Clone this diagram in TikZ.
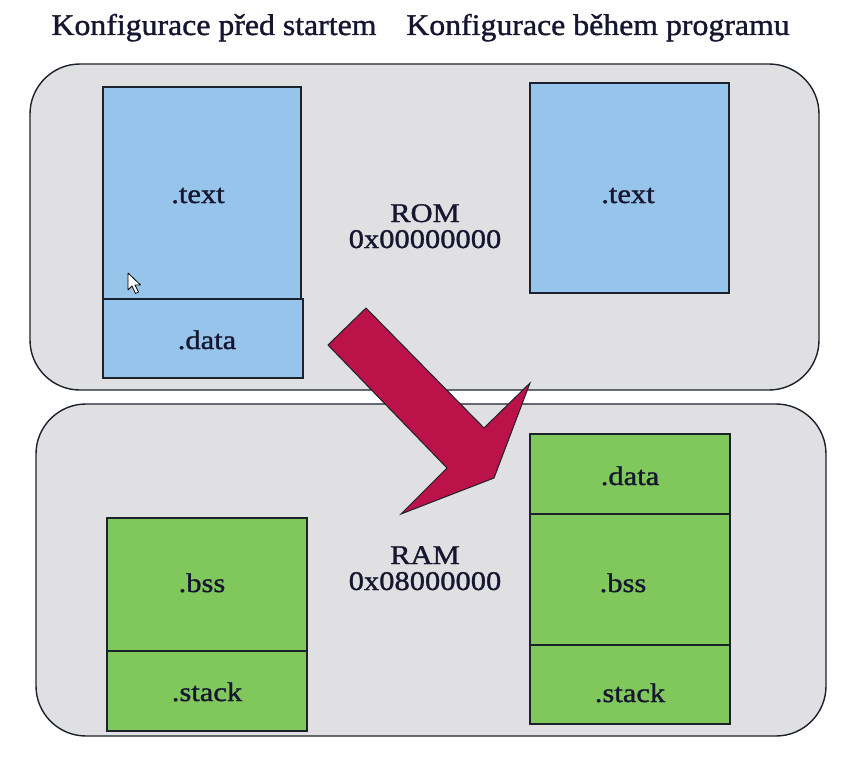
\documentclass[tikz,border=0pt]{standalone}
\usepackage{fontspec}
\setmainfont{Liberation Serif}
\newfontfamily\titlefont[FakeStretch=1.06,FakeBold=1.2]{Liberation Serif}
\newfontfamily\lblfont[FakeStretch=1.13,FakeBold=1.2]{Liberation Serif}
\definecolor{panelgray}{RGB}{224,224,226}
\definecolor{romblue}{RGB}{150,196,234}
\definecolor{ramgreen}{RGB}{128,200,92}
\definecolor{edgedark}{RGB}{28,34,44}
\definecolor{inkblue}{RGB}{22,22,48}
\definecolor{arrowred}{RGB}{188,18,74}
\tikzset{
  panel/.style={draw=edgedark, fill=panelgray, line width=1.4pt, rounded corners=50pt},
  seg/.style={draw=edgedark, line width=1.3pt, anchor=north west, inner sep=0pt, outer sep=0pt},
  romseg/.style={seg, fill=romblue},
  ramseg/.style={seg, fill=ramgreen},
  lbl/.style={font=\lblfont\fontsize{27}{26}\selectfont, text=inkblue, anchor=base, inner sep=0pt, align=center},
  ttl/.style={font=\titlefont\fontsize{30}{34}\selectfont, text=inkblue, anchor=base, inner sep=0pt},
  bigarrow/.style={draw=edgedark, fill=arrowred, line width=1pt, line join=miter},
  cursor/.style={draw=black, fill=white, line width=0.8pt, line join=round}
}
\begin{document}
\begin{tikzpicture}[x=1pt,y=-1pt]
\useasboundingbox (0,0) rectangle (843,757);
\fill[white] (0,0) rectangle (843,757);
% titles
\node[ttl] (t1) at (214,35) {Konfigurace před startem};
\node[ttl] (t2) at (598,35) {Konfigurace během programu};
% panels
\draw[panel] (30,64) rectangle (819,390);
\draw[panel] (36,404) rectangle (826,736);
% ROM, before start
\node[romseg, minimum width=198pt, minimum height=212pt] (rtxt1) at (103,87) {};
\node[romseg, minimum width=200pt, minimum height=79pt] (rdat1) at (103,299) {};
% ROM, during program
\node[romseg, minimum width=199pt, minimum height=210pt] (rtxt2) at (530,83) {};
% RAM, before start
\node[ramseg, minimum width=200pt, minimum height=133pt] (rbss1) at (107,518) {};
\node[ramseg, minimum width=200pt, minimum height=80pt] (rstk1) at (107,651) {};
% RAM, during program
\node[ramseg, minimum width=200pt, minimum height=80pt] (rdat2) at (530,434) {};
\node[ramseg, minimum width=200pt, minimum height=131pt] (rbss2) at (530,514) {};
\node[ramseg, minimum width=200pt, minimum height=79pt] (rstk2) at (530,645) {};
% labels
\node[lbl] (l1) at (198,203) {.text};
\node[lbl] (l2) at (207,349) {.data};
\node[lbl] (l3) at (628,203) {.text};
\node[lbl] (rom) at (425,248) {ROM\\0x00000000};
\node[lbl] (ram) at (425,590) {RAM\\0x08000000};
\node[lbl] (l8) at (202,592) {.bss};
\node[lbl] (l9) at (207,701) {.stack};
\node[lbl] (l10) at (630,485) {.data};
\node[lbl] (l11) at (623,592) {.bss};
\node[lbl] (l12) at (630,702) {.stack};
% big arrow
\draw[bigarrow] (328,345) -- (366,308) -- (484,428) -- (530,383) -- (494,478) -- (401,514) -- (447,468) -- cycle;
% mouse cursor
\draw[cursor] (128,273) -- (128,290) -- (132,286) -- (135.5,293.5) -- (138.5,292) -- (135,285) -- (140.5,285) -- cycle;
\end{tikzpicture}
\end{document}
